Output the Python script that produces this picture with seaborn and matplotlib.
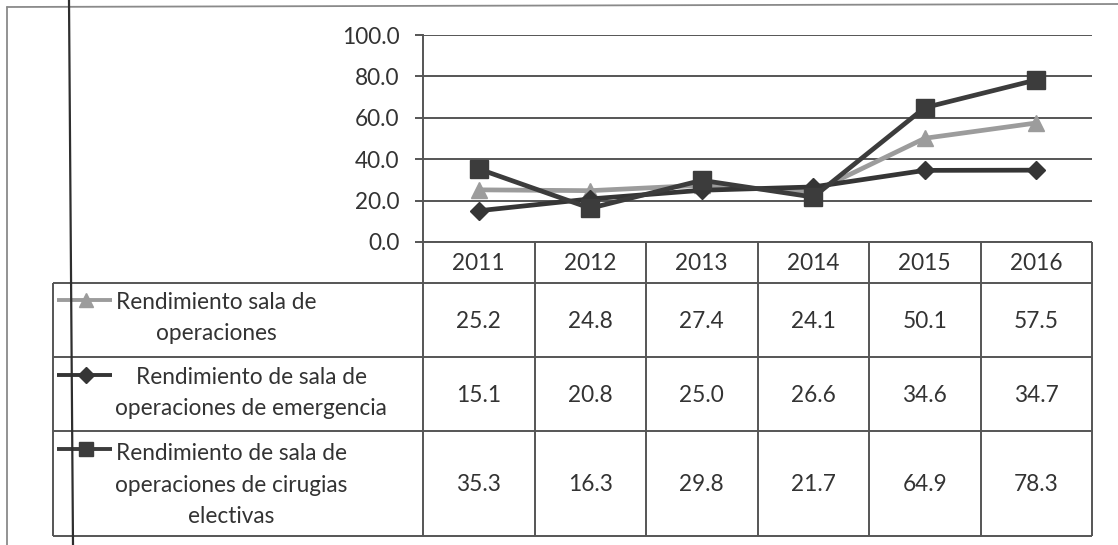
import numpy as np
import pandas as pd
import matplotlib
matplotlib.use("Agg")
import matplotlib.pyplot as plt
import seaborn as sns
from matplotlib.transforms import blended_transform_factory

# ---- data ---------------------------------------------------------------
years = ["2011", "2012", "2013", "2014", "2015", "2016"]
sala_operaciones = [25.2, 24.8, 27.4, 24.1, 50.1, 57.5]
sala_emergencia = [15.1, 20.8, 25.0, 26.6, 34.6, 34.7]
sala_electivas = [35.3, 16.3, 29.8, 21.7, 64.9, 78.3]
series_labels = [
    "Rendimiento sala de\noperaciones",
    "Rendimiento de sala de\noperaciones de emergencia",
    "Rendimiento de sala de\noperaciones de cirugias\nelectivas",
]
y_ticks = [0, 20, 40, 60, 80, 100]

series_values = [sala_operaciones, sala_emergencia, sala_electivas]
series_keys = ["operaciones", "emergencia", "electivas"]

df = pd.DataFrame(
    [
        {"pos": i, "year": y, "serie": key, "value": v}
        for key, vals in zip(series_keys, series_values)
        for i, (y, v) in enumerate(zip(years, vals))
    ]
)

# ---- styling --------------------------------------------------------------
sns.set_theme(style="white")
plt.rcParams["font.family"] = ["Lato", "DejaVu Sans"]
TXT = "#333333"
GRID = "#555555"
FS = 16.3

palette = {"operaciones": "#9c9c9c", "emergencia": "#353535", "electivas": "#3c3c3c"}
markers = {"operaciones": "^", "emergencia": "D", "electivas": "s"}
msizes = {"operaciones": 12, "emergencia": 9, "electivas": 12.5}

W, H = 1118, 545
fig = plt.figure(figsize=(W / 100, H / 100), dpi=100)
fig.patch.set_facecolor("white")

# overlay in pixel coordinates for the page frame and the data table
tab = fig.add_axes([0, 0, 1, 1], zorder=0)
tab.set_xlim(0, W)
tab.set_ylim(H, 0)
tab.axis("off")

# chart area
x0, x1, ytop, ybot = 423, 1092, 35, 242
ax = fig.add_axes([x0 / W, 1 - ybot / H, (x1 - x0) / W, (ybot - ytop) / H], zorder=2)
ax.set_facecolor("none")

sns.lineplot(
    data=df, x="pos", y="value", hue="serie", style="serie",
    hue_order=series_keys, style_order=series_keys,
    palette=palette, markers=markers, dashes=False,
    linewidth=3.4, legend=False, sort=False, ax=ax,
)
for line, key in zip(ax.lines, series_keys):
    c = palette[key]
    line.set_markersize(msizes[key])
    line.set_markerfacecolor(c)
    line.set_markeredgecolor(c)
    line.set_markeredgewidth(1.0)
    line.set_solid_joinstyle("round")

ax.set_xlim(-0.5, len(years) - 0.5)
ax.set_ylim(0, 100)
ax.set_yticks(y_ticks)
ax.set_yticklabels([f"{t:.1f}" for t in y_ticks], fontsize=FS, color=TXT)
ax.set_xticks([])
ax.set_xlabel("")
ax.set_ylabel("")
ax.yaxis.grid(True, color=GRID, linewidth=1.4)
ax.set_axisbelow(True)
for s in ["top", "right", "bottom"]:
    ax.spines[s].set_visible(False)
ax.spines["left"].set_color(GRID)
ax.spines["left"].set_linewidth(1.4)
ax.tick_params(axis="y", left=True, length=6, width=1.4, color=GRID, pad=11)

# ---- data table beneath the chart ---------------------------------------
bt = blended_transform_factory(ax.transData, tab.transData)
header_bottom = 283
row_edges = [283, 357, 431, 536]
label_left = 53
line_kw = dict(color="#555555", linewidth=1.4, solid_capstyle="butt")

# horizontal rules
tab.plot([label_left, x1], [header_bottom, header_bottom], **line_kw)
for yb in row_edges[1:]:
    tab.plot([label_left, x1], [yb, yb], **line_kw)
tab.plot([x0, x1], [ybot, ybot], **line_kw)
# vertical rules (column borders follow the chart's categories)
tab.plot([label_left, label_left], [header_bottom, row_edges[-1]], **line_kw)
for i in range(len(years) + 1):
    tab.plot([i - 0.5, i - 0.5], [ybot, row_edges[-1]], transform=bt, **line_kw)

# header with years
for i, y in enumerate(years):
    tab.text(i, (ybot + header_bottom) / 2 + 1, y, transform=bt, ha="center",
             va="center", fontsize=FS, color=TXT)

# series rows
label_cx = [216, 251, 231]
label_cy = [318, 393, 485]
key_y = [300, 375, 449]
for r, (key, vals, lab) in enumerate(zip(series_keys, series_values, series_labels)):
    cy = (row_edges[r] + row_edges[r + 1]) / 2 + 1
    for i, v in enumerate(vals):
        tab.text(i, cy, f"{v:.1f}", transform=bt, ha="center", va="center",
                 fontsize=FS, color=TXT)
    tab.text(label_cx[r], label_cy[r], lab, ha="center", va="center",
             multialignment="center", fontsize=FS, color=TXT, linespacing=1.6)
    tab.plot([57, 112], [key_y[r], key_y[r]], color=palette[key], linewidth=2.8,
             solid_capstyle="butt")
    tab.plot([86], [key_y[r]], marker=markers[key], color=palette[key],
             markersize=msizes[key] * 0.85, markeredgecolor=palette[key])

# page frame and margin rule
tab.plot([7, 7], [7, H], color="#8a8a8a", linewidth=1.3)
tab.plot([7, W], [7, 4], color="#8a8a8a", linewidth=1.3)
tab.plot([69, 73], [0, H], color="#2e2e2e", linewidth=1.6)

fig.savefig("out.png", dpi=100, facecolor="white")
